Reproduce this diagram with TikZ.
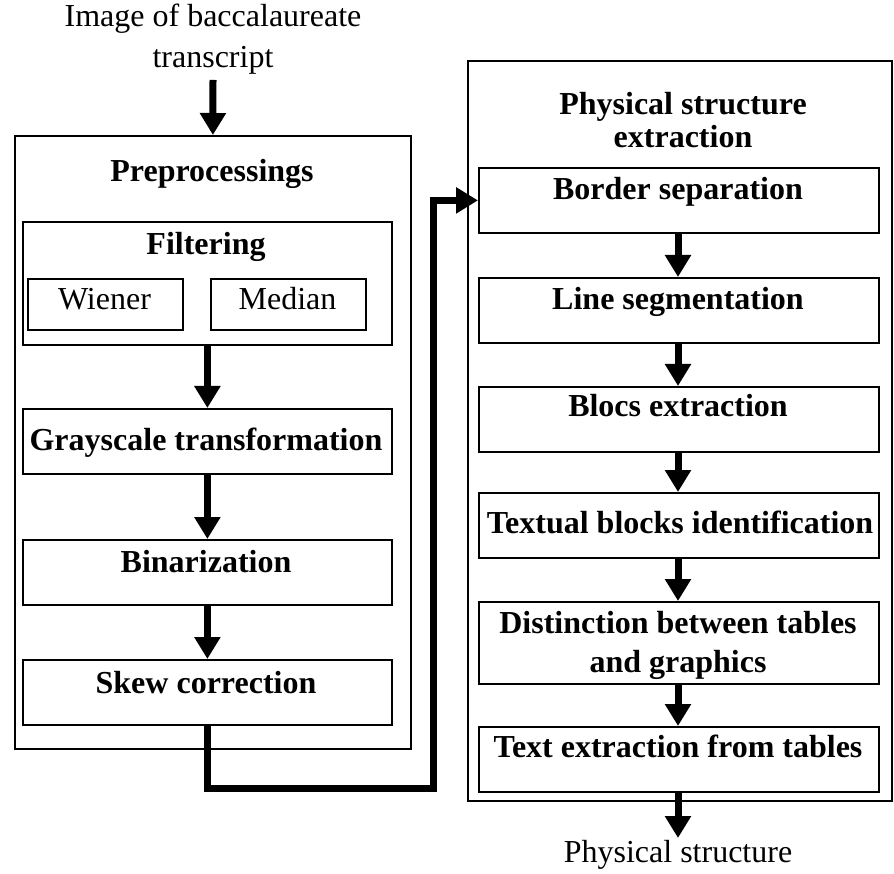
\documentclass[tikz,border=0pt]{standalone}
\usepackage{fontspec}
\setmainfont{Liberation Serif}
\usetikzlibrary{arrows.meta}
\begin{document}
\begin{tikzpicture}[x=1pt,y=-1pt,
  box/.style={draw, line width=1.8pt, rectangle, inner sep=0pt, anchor=north west},
  txt/.style={anchor=base, inner sep=0pt, font=\fontsize{32}{36}\selectfont},
  btxt/.style={anchor=base, inner sep=0pt, font=\fontsize{32}{36}\selectfont\bfseries},
  arr/.style={line width=7pt, -{Triangle[width=25pt,length=22pt]}},
  conn/.style={line width=7pt}
]
\useasboundingbox (0,0) rectangle (894,874);
% top input
\node[txt] (in1) at (213,27) {Image of baccalaureate};
\node[txt] (in2) at (213,68) {transcript};
% left outer
\node[box, minimum width=396pt, minimum height=613pt] (pre) at (14,135) {};
\node[btxt] (pret) at (212,182) {Preprocessings};
\node[box, minimum width=369pt, minimum height=123pt] (filt) at (22,221) {};
\node[btxt] (filtt) at (206,255) {Filtering};
\node[box, minimum width=155pt, minimum height=51pt] (wien) at (27,278) {};
\node[txt] (wient) at (104.5,310) {Wiener};
\node[box, minimum width=155pt, minimum height=51pt] (med) at (210,278) {};
\node[txt] (medt) at (287.5,310) {Median};
\node[box, minimum width=369pt, minimum height=65pt] (gray) at (22,408) {};
\node[btxt] (grayt) at (206,450) {Grayscale transformation};
\node[box, minimum width=369pt, minimum height=65pt] (bin) at (22,539) {};
\node[btxt] (bint) at (206,572) {Binarization};
\node[box, minimum width=369pt, minimum height=65pt] (skew) at (22,659) {};
\node[btxt] (skewt) at (206,693) {Skew correction};
% right outer
\node[box, minimum width=424pt, minimum height=740pt] (phys) at (467,60) {};
\node[btxt] (physt1) at (683,115) {Physical structure};
\node[btxt] (physt2) at (683,148) {extraction};
\node[box, minimum width=400pt, minimum height=65pt] (bord) at (478,167) {};
\node[btxt] (bordt) at (678,200) {Border separation};
\node[box, minimum width=400pt, minimum height=65pt] (lseg) at (478,277) {};
\node[btxt] (lsegt) at (678,310) {Line segmentation};
\node[box, minimum width=400pt, minimum height=65pt] (bloc) at (478,386) {};
\node[btxt] (bloct) at (678,417) {Blocs extraction};
\node[box, minimum width=400pt, minimum height=65pt] (textb) at (478,492) {};
\node[btxt] (textbt) at (680,533) {Textual blocks identification};
\node[box, minimum width=400pt, minimum height=82pt] (dist) at (478,601) {};
\node[btxt] (distt1) at (678,633) {Distinction between tables};
\node[btxt] (distt2) at (678,672) {and graphics};
\node[box, minimum width=400pt, minimum height=65pt] (tex) at (478,726) {};
\node[btxt] (text) at (678,757) {Text extraction from tables};
\node[txt] (out) at (678,862) {Physical structure};
\coordinate (outtip) at (678,838);
% arrows
\draw[arr] (in2.south |- 0,80) -- (pre.north);
\draw[arr] (filt.south) -- (gray.north);
\draw[arr] (gray.south) -- (bin.north);
\draw[arr] (bin.south) -- (skew.north);
\coordinate (c1) at (433,788);
\draw[arr] (skew.south) |- (c1) |- (bord.west);
\draw[arr] (bord.south -| 678,0) -- (lseg.north -| 678,0);
\draw[arr] (lseg.south -| 678,0) -- (bloc.north -| 678,0);
\draw[arr] (bloc.south -| 678,0) -- (textb.north -| 678,0);
\draw[arr] (textb.south -| 678,0) -- (dist.north -| 678,0);
\draw[arr] (dist.south -| 678,0) -- (tex.north -| 678,0);
\draw[arr] (tex.south -| 678,0) -- (outtip);
\end{tikzpicture}
\end{document}
